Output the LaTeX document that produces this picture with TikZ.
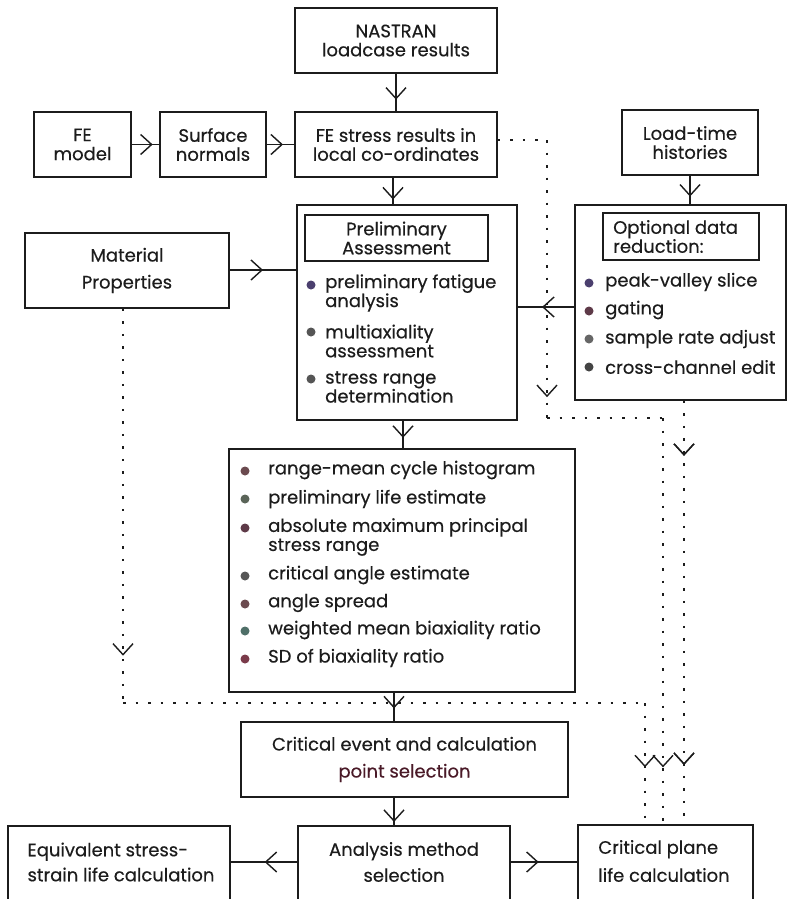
\documentclass[tikz,border=0pt]{standalone}
\usepackage{fontspec}
\setmainfont{Poppins}[FakeBold=0.35]
\usetikzlibrary{arrows.meta,decorations.markings}
\definecolor{ink}{HTML}{1C1C1C}
\definecolor{selcol}{HTML}{4A1A28}
\definecolor{bA}{HTML}{4B3F6E}
\definecolor{bB}{HTML}{555555}
\definecolor{bC}{HTML}{5E3A48}
\definecolor{bD}{HTML}{666666}
\definecolor{bE}{HTML}{444444}
\definecolor{bF}{HTML}{6B4A4F}
\definecolor{bG}{HTML}{5A6458}
\definecolor{bH}{HTML}{4F6F68}
\definecolor{bI}{HTML}{7A3A4A}
\newcommand\boxfont{\fontsize{18}{19}\selectfont}
\tikzset{
  box/.style={draw=ink, line width=1.5pt, inner sep=0pt, align=center, font=\boxfont, text=ink},
  txt/.style={inner sep=0pt, align=center, font=\boxfont, text=ink},
  itm/.style={inner sep=0pt, anchor=west, align=left, font=\boxfont, text=ink},
  bul/.style={circle, inner sep=0pt, minimum size=9pt, draw=none},
  conn/.style={draw=ink, line width=1.4pt},
  dotline/.style={draw=ink, line width=1.7pt, dash pattern=on 2.5pt off 10pt},
  arrowat/.style={postaction={decorate}, decoration={markings,
     mark=at position #1 with {\arrow[ink, line width=1.4pt]{Straight Barb[length=11pt,width=20pt]}}}}
}
\begin{document}
\begin{tikzpicture}[x=1pt,y=-1pt]
\useasboundingbox (0,0) rectangle (788,899);
\fill[white] (0,0) rectangle (788,899);

% top row
\node[box, minimum width=202pt, minimum height=65pt] (nas) at (396,40.5) {NASTRAN\\loadcase results};
\node[box, minimum width=97pt, minimum height=65pt] (fem) at (82.5,144.5) {FE\\model};
\node[box, minimum width=106pt, minimum height=65pt] (sn) at (213,144.5) {Surface\\normals};
\node[box, minimum width=202pt, minimum height=65pt] (fes) at (396,144.5) {FE stress results in\\local co-ordinates};
\node[box, minimum width=136pt, minimum height=65pt] (lth) at (690,142.5) {Load-time\\histories};

% material
\node[box, minimum width=204pt, minimum height=75pt] (mat) at (127,270.5) {Material\\[8pt]Properties};

% preliminary assessment
\node[box, minimum width=220pt, minimum height=215pt] (pre) at (407,312.5) {};
\node[box, minimum width=183pt, minimum height=46pt] (pret) at (396.5,238) {Preliminary\\Assessment};
\node[bul, fill=bA] (pb1) at (311,285) {};
\node[bul, fill=bB] (pb2) at (311,332) {};
\node[bul, fill=bB] (pb3) at (311,379) {};
\node[itm] (pi1) at (325,293) {preliminary fatigue\\analysis};
\node[itm] (pi2) at (325,341) {multiaxiality\\assessment};
\node[itm] (pi3) at (325,387) {stress range\\determination};

% optional data reduction
\node[box, minimum width=211pt, minimum height=195pt] (opt) at (680.5,302.5) {};
\node[box, minimum width=156pt, minimum height=47pt] (optt) at (681,236.5) {};
\node[itm] (optx) at (613,236.5) {Optional data\\reduction:};
\node[bul, fill=bA] (ob1) at (589,283) {};
\node[bul, fill=bC] (ob2) at (589,311) {};
\node[bul, fill=bD] (ob3) at (589,339) {};
\node[bul, fill=bE] (ob4) at (589,367) {};
\node[itm] (oi1) at (605,282) {peak-valley slice};
\node[itm] (oi2) at (605,310) {gating};
\node[itm] (oi3) at (605,339) {sample rate adjust};
\node[itm] (oi4) at (605,367) {cross-channel edit};

% results list
\node[box, minimum width=346pt, minimum height=243pt] (lst) at (402,570.5) {};
\node[bul, fill=bF] (lb1) at (245,471) {};
\node[bul, fill=bG] (lb2) at (245,499) {};
\node[bul, fill=bC] (lb3) at (245,528) {};
\node[bul, fill=bB] (lb4) at (245,576) {};
\node[bul, fill=bF] (lb5) at (245,604) {};
\node[bul, fill=bH] (lb6) at (245,631) {};
\node[bul, fill=bI] (lb7) at (245,659) {};
\node[itm] (li1) at (268,470) {range-mean cycle histogram};
\node[itm] (li2) at (268,499) {preliminary life estimate};
\node[itm] (li3) at (268,537) {absolute maximum principal\\stress range};
\node[itm] (li4) at (268,575) {critical angle estimate};
\node[itm] (li5) at (268,603) {angle spread};
\node[itm] (li6) at (268,630) {weighted mean biaxiality ratio};
\node[itm] (li7) at (268,658) {SD of biaxiality ratio};

% critical event
\node[box, minimum width=327pt, minimum height=75pt] (cev) at (404.5,759.5) {Critical event and calculation\\[8pt]\textcolor{selcol}{point selection}};

% bottom row
\node[box, minimum width=212pt, minimum height=84pt] (ams) at (404,868) {};
\node[txt] (amst) at (404,862) {Analysis method\\[7pt]selection};
\node[box, minimum width=222pt, minimum height=84pt] (eqv) at (119,868) {};
\node[txt, align=left] (eqvt) at (121,862) {Equivalent stress-\\[6pt]strain life calculation};
\node[box, minimum width=175pt, minimum height=84pt] (cpl) at (665.5,867) {};
\node[txt, align=left] (cplt) at (664,861) {Critical plane\\[9pt]life calculation};

% solid connectors
\draw[conn, arrowat=0.69] (nas.south) -- (nas.south |- fes.north);
\draw[conn, arrowat=0.76] (fem.east) -- (sn.west);
\draw[conn, arrowat=0.59] (sn.east) -- (fes.west);
\coordinate (c1) at (393,0);
\draw[conn, arrowat=0.82] (c1 |- fes.south) -- (c1 |- pre.north);
\draw[conn, arrowat=0.73] (lth.south) -- (lth.south |- opt.north);
\coordinate (c2) at (0,270);
\draw[conn, arrowat=0.5] (mat.east |- c2) -- (pre.west |- c2);
\coordinate (c3) at (0,307);
\draw[conn, arrowat=0.57] (opt.west |- c3) -- (pre.east |- c3);
\coordinate (c4) at (403,0);
\draw[conn, arrowat=0.62] (c4 |- pre.south) -- (c4 |- lst.north);
\coordinate (c5) at (394,0);
\draw[conn, arrowat=0.55] (c5 |- lst.south) -- (c5 |- cev.north);
\draw[conn, arrowat=0.88] (c5 |- cev.south) -- (c5 |- ams.north);
\draw[conn, arrowat=0.49] (ams.west |- amst.center) -- (eqv.east |- amst.center);
\draw[conn, arrowat=0.42] (ams.east |- amst.center) -- (cpl.west |- amst.center);

% dotted connectors
\coordinate (dA1) at (547,140);
\coordinate (dA2) at (547,418);
\coordinate (dA3) at (663,418);
\draw[dotline] (fes.east |- dA1) -- (dA1);
\draw[dotline, arrowat=0.925] (dA1) -- (dA2);
\draw[dotline] (dA2) -- (dA3);
\draw[dotline, arrowat=0.86] (dA3) -- (dA3 |- cpl.north);

\coordinate (dB1) at (123,703);
\coordinate (dB2) at (645,703);
\draw[dotline, arrowat=0.88] (dB1 |- mat.south) -- (dB1);
\draw[dotline] (dB1) -- (dB2);
\draw[dotline, arrowat=0.53] (dB2) -- (dB2 |- cpl.north);

\coordinate (dC1) at (684,0);
\draw[dotline, arrowat=0.13, arrowat=0.86] (dC1 |- opt.south) -- (dC1 |- cpl.north);
\end{tikzpicture}
\end{document}
